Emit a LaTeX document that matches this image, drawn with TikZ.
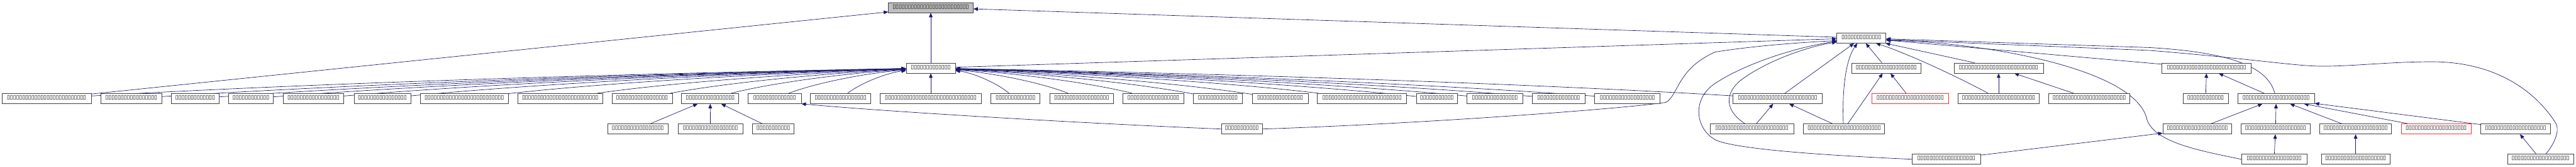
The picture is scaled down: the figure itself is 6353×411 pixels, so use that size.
\documentclass[tikz,border=0pt]{standalone}
\usepackage{fontspec}
\setmainfont{DejaVu Sans}
\usetikzlibrary{arrows.meta}
\definecolor{edgeblue}{HTML}{191970}
\definecolor{bordergray}{HTML}{404040}
\definecolor{topfill}{HTML}{BFBFBF}
\definecolor{redborder}{HTML}{FF3030}
\newcommand\tofuglyph{\fontsize{14pt}{14pt}\selectfont ▯}
\ExplSyntaxOn
\NewDocumentCommand\tofu{m}{\prg_replicate:nn{#1}{\makebox[7.52pt]{\tofuglyph}}}
\ExplSyntaxOff
\pgfdeclarelayer{bg}
\pgfsetlayers{bg,main}
\tikzset{
  fnode/.style={draw=bordergray, line width=1.1pt, rectangle, fill=white,
    inner xsep=0pt, inner ysep=0pt, minimum height=25pt,
    text height=14.3pt, text depth=10.7pt},
  rednode/.style={fnode, draw=redborder},
  topnode/.style={fnode, fill=topfill},
  edge/.style={draw=edgeblue, line width=1.05pt, -{Triangle[length=11pt,width=9pt]}},
}
\begin{document}
\begin{tikzpicture}[x=1pt,y=-1pt]
\useasboundingbox (0,0) rectangle (6353,411);
% row 0
\node[topnode, minimum width=209pt] (top) at (2295.5,18.5) {\tofu{25}};
% row A
\node[fnode, minimum width=121pt] (a) at (4590.5,93.5) {\tofu{13}};
% row 1
\node[fnode, minimum width=121pt] (b1) at (2295.5,167.5) {\tofu{13}};
\node[fnode, minimum width=170pt] (b2) at (4652,167.5) {\tofu{20}};
\node[fnode, minimum width=220pt] (b3) at (4929,167.5) {\tofu{26}};
\node[fnode, minimum width=220pt] (b4) at (5442,167.5) {\tofu{26}};
% row 2
\node[fnode, minimum width=220pt] (n1) at (115,242.5) {\tofu{26}};
\node[fnode, minimum width=150pt] (n2) at (324,242.5) {\tofu{17}};
\node[fnode, minimum width=119pt] (n3) at (481.5,242.5) {\tofu{13}};
\node[fnode, minimum width=110pt] (n4) at (619,242.5) {\tofu{12}};
\node[fnode, minimum width=150pt] (n5) at (773,242.5) {\tofu{17}};
\node[fnode, minimum width=140pt] (n6) at (943,242.5) {\tofu{16}};
\node[fnode, minimum width=216pt] (n7) at (1145,242.5) {\tofu{26}};
\node[fnode, minimum width=209pt] (n8) at (1381.5,242.5) {\tofu{25}};
\node[fnode, minimum width=149pt] (n9) at (1583.5,242.5) {\tofu{17}};
\node[fnode, minimum width=141pt] (n10) at (1751.5,242.5) {\tofu{16}};
\node[fnode, minimum width=131pt] (n11) at (1910.5,242.5) {\tofu{14}};
\node[fnode, minimum width=148pt] (n12) at (2073,242.5) {\tofu{17}};
\node[fnode, minimum width=249pt] (n13) at (2295.5,242.5) {\tofu{30}};
\node[fnode, minimum width=121pt] (n14) at (2504.5,242.5) {\tofu{13}};
\node[fnode, minimum width=157pt] (n15) at (2667.5,242.5) {\tofu{18}};
\node[fnode, minimum width=151pt] (n16) at (2844.5,242.5) {\tofu{17}};
\node[fnode, minimum width=121pt] (n17) at (3003.5,242.5) {\tofu{13}};
\node[fnode, minimum width=138pt] (n18) at (3157,242.5) {\tofu{15}};
\node[fnode, minimum width=220pt] (n19) at (3359,242.5) {\tofu{26}};
\node[fnode, minimum width=101pt] (n20) at (3543.5,242.5) {\tofu{11}};
\node[fnode, minimum width=137pt] (n21) at (3686.5,242.5) {\tofu{15}};
\node[fnode, minimum width=130pt] (n22) at (3844,242.5) {\tofu{14}};
\node[fnode, minimum width=161pt] (n23) at (4013.5,242.5) {\tofu{18}};
\node[fnode, minimum width=220pt] (n24) at (4384,242.5) {\tofu{26}};
\node[rednode, minimum width=188pt] (n25) at (4711,242.5) {\tofu{22}};
\node[fnode, minimum width=200pt] (n26) at (4929,242.5) {\tofu{24}};
\node[fnode, minimum width=201pt] (n27) at (5152.5,242.5) {\tofu{24}};
\node[fnode, minimum width=111pt] (n28) at (5439.5,242.5) {\tofu{12}};
\node[fnode, minimum width=189pt] (n29) at (5613.5,242.5) {\tofu{22}};
% row 3
\node[fnode, minimum width=148pt] (r3a) at (1573,317.5) {\tofu{17}};
\node[fnode, minimum width=160pt] (r3b) at (1752,317.5) {\tofu{18}};
\node[fnode, minimum width=102pt] (r3d) at (1907,317.5) {\tofu{11}};
\node[fnode, minimum width=101pt] (r3c) at (3062.5,317.5) {\tofu{11}};
\node[fnode, minimum width=207pt] (r3e) at (4320.5,317.5) {\tofu{24}};
\node[fnode, minimum width=200pt] (r3f) at (4548,317.5) {\tofu{24}};
\node[fnode, minimum width=170pt] (r3g) at (5419,317.5) {\tofu{20}};
\node[fnode, minimum width=170pt] (r3h) at (5612,317.5) {\tofu{20}};
\node[fnode, minimum width=177pt] (r3i) at (5809.5,317.5) {\tofu{21}};
\node[rednode, minimum width=172pt] (r3j) at (6008,317.5) {\tofu{20}};
\node[fnode, minimum width=172pt] (r3k) at (6204,317.5) {\tofu{20}};
% row 4
\node[fnode, minimum width=168pt] (r4a) at (4800,392) {\tofu{19}};
\node[fnode, minimum width=161pt] (r4b) at (5608.5,392) {\tofu{18}};
\node[fnode, minimum width=169pt] (r4c) at (5809.5,392) {\tofu{20}};
\node[fnode, minimum width=163pt] (r4d) at (6265.5,392) {\tofu{19}};

\begin{pgfonlayer}{bg}
% edges to top
\draw[edge] (n1) -- (top);
\draw[edge] (b1) -- (top);
\draw[edge] (a) -- (top);
% edges to b1: left nodes
\foreach \i/\x in {1/115,2/324,3/481.5,4/619,5/773,6/943,7/1145,8/1381.5,9/1583.5,10/1751.5,11/1910.5,12/2073}{
  \pgfmathsetmacro\ca{\x+0.35*(2235-\x)}
  \pgfmathsetmacro\cb{2235-0.25*(2235-\x)}
  \draw[edge] (n\i) .. controls (\ca,200) and (\cb,178) .. (b1);
}
\draw[edge] (n13) -- (b1);
% edges to b1: right nodes
\foreach \i/\x in {14/2504.5,15/2667.5,16/2844.5,17/3003.5,18/3157,19/3359,20/3543.5,21/3686.5,22/3844,23/4013.5,24/4384}{
  \pgfmathsetmacro\ca{\x-0.35*(\x-2356)}
  \pgfmathsetmacro\cb{2356+0.25*(\x-2356)}
  \draw[edge] (n\i) .. controls (\ca,200) and (\cb,178) .. (b1);
}
% edges to a
\draw[edge] (b1) -- (a);
\draw[edge] (n24) -- (a);
\draw[edge] (b2) -- (a);
\draw[edge] (b3) -- (a);
\draw[edge] (b4) -- (a);
\draw[edge] (r3c.east) .. controls (3500,305) and (4000,268) .. (4108,252)
  .. controls (4140,235) and (4135,170) .. (4230,128)
  .. controls (4330,112) and (4450,104) .. ([yshift=-6.5pt]a.west);
\draw[edge] (r4a.west) .. controls (4450,380) and (4280,365) .. (4232,345)
  .. controls (4180,318) and (4170,240) .. (4235,202)
  .. controls (4300,160) and (4420,118) .. ([yshift=-8pt]a.west);
\draw[edge] ([xshift=-17pt]r3e.north) .. controls (4265,280) and (4245,240) .. (4290,200)
  .. controls (4340,160) and (4440,118) .. ([yshift=-10pt]a.west);
\draw[edge] ([xshift=-2pt]r3f.north) .. controls (4543,230) and (4550,150) .. ([xshift=-10pt]a.south);
\draw[edge] ([xshift=-26pt]n26.north) .. controls (4820,185) and (4700,130) .. ([xshift=36pt]a.south);
\draw[edge] ([xshift=-3.5pt]n29.north) .. controls (5595,175) and (5530,130) .. (5300,117) -- ([yshift=-2pt]a.east);
\draw[edge] ([xshift=13pt]r4d.north) .. controls (6295,360) and (6315,325) .. (6303,303)
  .. controls (6250,220) and (6150,152) .. (5997,152)
  .. controls (5900,152) and (5800,163) .. (5730,163)
  .. controls (5660,163) and (5560,145) .. (5300,124) -- ([yshift=-4pt]a.east);
\draw[edge] (r4b.west) .. controls (5420,370) and (5315,350) .. (5295,295)
  .. controls (5270,170) and (4900,105) .. ([yshift=-5.5pt]a.east);
% n10 children
\foreach \s in {r3a,r3b,r3d} \draw[edge] (\s) -- (n10);
\draw[edge] (r3c.west) .. controls (2700,305) and (2200,276) .. (n11.south east);
% others
\draw[edge] (r3e) -- (n24);
\draw[edge] (r3f) -- (n24);
\draw[edge] (r3f) -- (b2);
\draw[edge] (n25) -- (b2);
\draw[edge] (n26) -- (b3);
\draw[edge] (n27) -- (b3);
\draw[edge] (n28) -- (b4);
\draw[edge] (n29) -- (b4);
\foreach \s in {r3g,r3h,r3i,r3j,r3k} \draw[edge] (\s) -- (n29);
\draw[edge] (r4a) -- (r3g);
\draw[edge] (r4b) -- (r3h);
\draw[edge] (r4c) -- (r3i);
\draw[edge] (r4d) -- (r3k);
\end{pgfonlayer}
\end{tikzpicture}
\end{document}
